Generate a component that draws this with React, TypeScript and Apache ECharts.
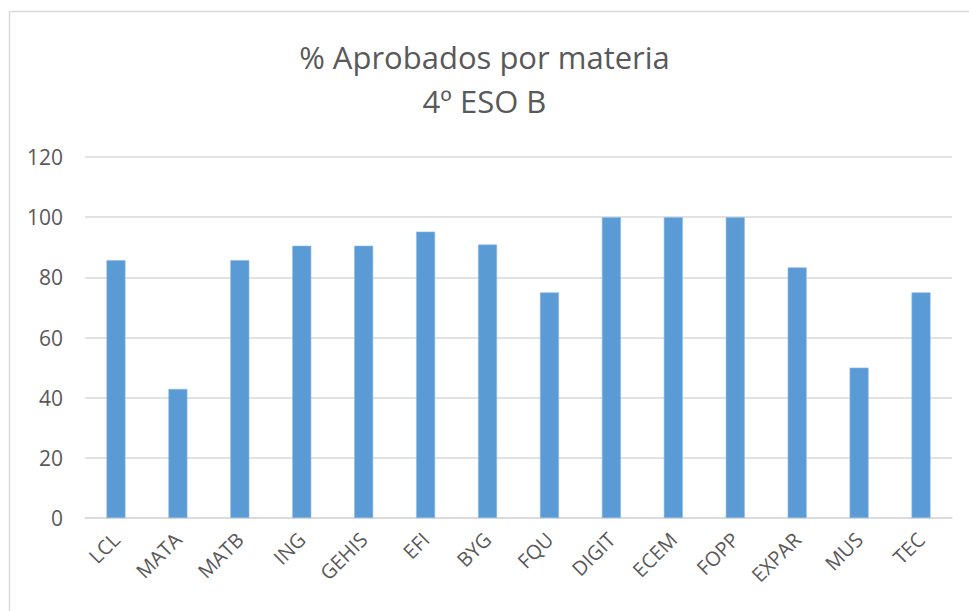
import React, { useEffect, useRef } from "react";
import * as echarts from "echarts";

const categories = ["LCL", "MATA", "MATB", "ING", "GEHIS", "EFI", "BYG", "FQU", "DIGIT", "ECEM", "FOPP", "EXPAR", "MUS", "TEC"];
const values = [85.7, 42.9, 85.7, 90.5, 90.5, 95.2, 90.9, 75, 100, 100, 100, 83.3, 50, 75];
const titleLines = ["% Aprobados por materia", "4º ESO B"];

export default function App() {
  const ref = useRef<HTMLDivElement>(null);
  useEffect(() => {
    if (!ref.current) return;
    const chart = echarts.init(ref.current, null, { renderer: "svg" });
    const font = "Open Sans";
    chart.setOption({
      animation: false,
      backgroundColor: "#ffffff",
      title: {
        text: titleLines.join("\n"),
        left: "center",
        top: 30,
        textStyle: { fontSize: 31, fontWeight: "normal", color: "#595959", lineHeight: 44, fontFamily: font },
      },
      graphic: [
        {
          type: "rect",
          shape: { x: 9.5, y: 11.5, width: 1000, height: 700 },
          style: { fill: "none", stroke: "#d9d9d9", lineWidth: 1.5 },
          silent: true,
        },
      ],
      grid: { left: 85, right: 17, top: 157, bottom: 93, containLabel: false },
      xAxis: {
        type: "category",
        data: categories,
        axisLine: { show: true, lineStyle: { color: "#d9d9d9", width: 1.5 } },
        axisTick: { show: false },
        axisLabel: { show: true, rotate: 45, color: "#595959", fontSize: 20, margin: 18, interval: 0, fontFamily: font },
      },
      yAxis: {
        type: "value",
        min: 0,
        max: 120,
        interval: 20,
        axisLine: { show: false },
        axisTick: { show: false },
        axisLabel: { show: true, color: "#595959", fontSize: 21, margin: 22, fontFamily: font },
        splitLine: { lineStyle: { color: "#d9d9d9", width: 1.5 } },
      },
      series: [
        {
          type: "bar",
          data: values,
          barWidth: 19,
          itemStyle: { color: "#5B9BD5", borderColor: "#8fbbe6", borderWidth: 0.6 },
        },
      ],
    });
    return () => chart.dispose();
  }, []);
  return <div ref={ref} style={{ position: "absolute", left: 0, top: 0, width: 969, height: 611 }} />;
}
